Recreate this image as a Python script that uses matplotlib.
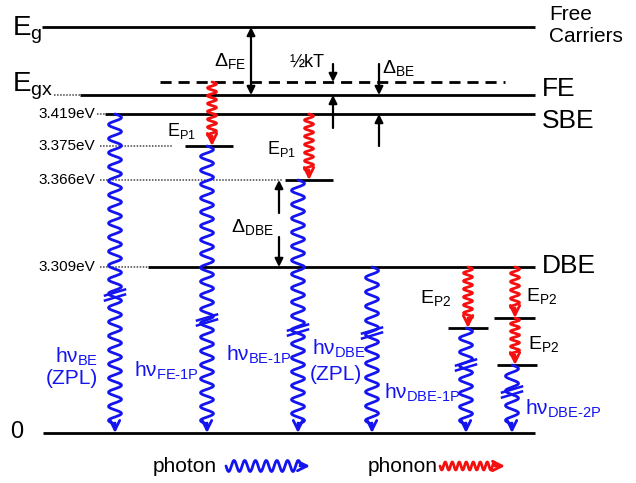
import numpy as np
import matplotlib
matplotlib.use("Agg")
import matplotlib.pyplot as plt

plt.rcParams['font.family'] = ['Liberation Sans', 'DejaVu Sans']
plt.rcParams['mathtext.fontset'] = 'custom'
plt.rcParams['mathtext.rm'] = 'Liberation Sans'
plt.rcParams['mathtext.it'] = 'Liberation Sans'
plt.rcParams['mathtext.bf'] = 'Liberation Sans:bold'

BLUE = '#1414f0'
RED = '#f51010'

# schematic positions (diagram units, y grows downward)
level_y = [27, 95, 114, 146, 180, 267, 328, 318, 365, 433]
level_x0 = [42, 80, 105, 185, 285, 148, 448, 494, 497, 43]
level_x1 = [535, 535, 535, 233, 333, 535, 488, 535, 537, 535]

# dotted leaders from the energy labels
dot_y = [95, 114, 146, 180, 267]
dot_x0 = [54, 97, 100, 100, 100]
dot_x1 = [80, 105, 172, 282, 148]
ev_y = [114, 146, 180, 267]
ev_labels = ['3.419eV', '3.375eV', '3.366eV', '3.309eV']

# free exciton dashed level
fe_dash_y = 82
fe_dash_x = [160, 505]

# photon (blue) transitions: x, start, end, break mark
photon_x = [115, 207, 298, 372, 466, 512]
photon_top = [114, 146, 180, 267, 328, 365]
photon_bot = [433, 433, 433, 433, 433, 433]
photon_brk = [295, 320, 330, 333, 365, 392]

# phonon (red) transitions
phonon_x = [212, 309, 468, 515, 515]
phonon_top = [82, 114, 267, 267, 318]
phonon_bot = [146, 180, 328, 318, 365]

fig = plt.figure(figsize=(6.36, 4.83), dpi=100)
ax = fig.add_axes([0, 0, 1, 1])
ax.set_xlim(0, 636)
ax.set_ylim(483, 0)
ax.axis('off')


def wave(x0, y0, y1, color, lam, amp, lw=2.0, tail=9, horizontal=False):
    L = y1 - tail - y0
    n = max(round(L / lam * 2) / 2, 0.5)
    lam = L / n
    t = np.linspace(y0, y1 - tail, 500)
    s = x0 + amp * np.sin(2 * np.pi * (t - y0) / lam)
    if horizontal:
        ax.plot(t, s, color=color, lw=lw, solid_capstyle='round')
        start, end = (y1 - tail - 1, x0), (y1, x0)
    else:
        ax.plot(s, t, color=color, lw=lw, solid_capstyle='round')
        start, end = (x0, y1 - tail - 1), (x0, y1)
    ax.annotate('', xy=end, xytext=start,
                arrowprops=dict(arrowstyle='->', color=color, lw=lw,
                                mutation_scale=17, shrinkA=0, shrinkB=0))


def brk(x0, yb, color):
    for d in (-2.5, 2.5):
        ax.plot([x0 - 10, x0 + 10], [yb + 3 + d, yb - 3 + d], color=color, lw=1.8)


def arrow(x, y_from, y_to):
    ax.annotate('', xy=(x, y_to), xytext=(x, y_from),
                arrowprops=dict(arrowstyle='-|>', color='black', lw=1.6,
                                mutation_scale=12, shrinkA=0, shrinkB=0))


# levels
for y, a, b in zip(level_y, level_x0, level_x1):
    ax.plot([a, b], [y, y], color='black', lw=2.0, solid_capstyle='butt')
for y, a, b in zip(dot_y, dot_x0, dot_x1):
    ax.plot([a, b], [y, y], color='#444444', lw=1.1, ls=(0, (1, 1)))
ax.plot(fe_dash_x, [fe_dash_y, fe_dash_y], color='black', lw=2.0, ls=(0, (4, 2.5)))

# transitions
for x, a, b, c in zip(photon_x, photon_top, photon_bot, photon_brk):
    wave(x, a, b, BLUE, 14, 6.5)
    brk(x, c, BLUE)
for x, a, b in zip(phonon_x, phonon_top, phonon_bot):
    wave(x, a, b, RED, 8, 4.5)

# gap arrows
arrow(251, 61, 27)
arrow(251, 61, 95)
arrow(333, 64, 82)
arrow(333, 128, 95)
arrow(379, 64, 95)
arrow(379, 146, 114)
arrow(279, 213, 180)
arrow(279, 237, 267)

# labels
ax.text(12, 30, r'$\mathrm{E_g}$', fontsize=20, va='center')
ax.text(12, 86, r'$\mathrm{E_{gx}}$', fontsize=20, va='center')
ax.text(10, 432, '0', fontsize=17, va='center')
for y, s in zip(ev_y, ev_labels):
    ax.text(95, y, s, fontsize=11, ha='right', va='center')

ax.text(549, 5, 'Free\nCarriers', fontsize=15, va='top', linespacing=1.2)
ax.text(542, 89, 'FE', fontsize=19, va='center')
ax.text(542, 121, 'SBE', fontsize=19, va='center')
ax.text(542, 266, 'DBE', fontsize=19, va='center')

ax.text(214, 61, r'$\Delta_{FE}$', fontsize=14, va='center')
ax.text(289, 62, u'\u00bdkT', fontsize=13, va='center')
ax.text(382, 68, r'$\Delta_{BE}$', fontsize=14, va='center')
ax.text(231, 227, r'$\Delta_{DBE}$', fontsize=14, va='center')

ax.text(167, 131, r'$\mathrm{E_{P1}}$', fontsize=13, va='center')
ax.text(267, 149, r'$\mathrm{E_{P1}}$', fontsize=13, va='center')
ax.text(420, 298, r'$\mathrm{E_{P2}}$', fontsize=14, va='center')
ax.text(526, 296, r'$\mathrm{E_{P2}}$', fontsize=14, va='center')
ax.text(528, 344, r'$\mathrm{E_{P2}}$', fontsize=14, va='center')

ax.text(98, 357, r'$\mathrm{h\nu_{BE}}$', fontsize=15, color=BLUE, ha='right', va='center')
ax.text(98, 379, '(ZPL)', fontsize=15, color=BLUE, ha='right', va='center')
ax.text(134, 371, r'$\mathrm{h\nu_{FE\text{-}1P}}$', fontsize=15, color=BLUE, va='center')
ax.text(226, 355, r'$\mathrm{h\nu_{BE\text{-}1P}}$', fontsize=15, color=BLUE, va='center')
ax.text(312, 349, r'$\mathrm{h\nu_{DBE}}$', fontsize=15, color=BLUE, va='center')
ax.text(310, 374, '(ZPL)', fontsize=15, color=BLUE, va='center')
ax.text(384, 393, r'$\mathrm{h\nu_{DBE\text{-}1P}}$', fontsize=15, color=BLUE, va='center')
ax.text(525, 409, r'$\mathrm{h\nu_{DBE\text{-}2P}}$', fontsize=15, color=BLUE, va='center')

# legend
ax.text(153, 467, 'photon', fontsize=15, va='center')
wave(466, 226, 310, BLUE, 11, 5.5, horizontal=True)
ax.text(368, 467, 'phonon', fontsize=15, va='center')
wave(466, 440, 505, RED, 7, 4, horizontal=True)

fig.savefig('out.png', dpi=100)
